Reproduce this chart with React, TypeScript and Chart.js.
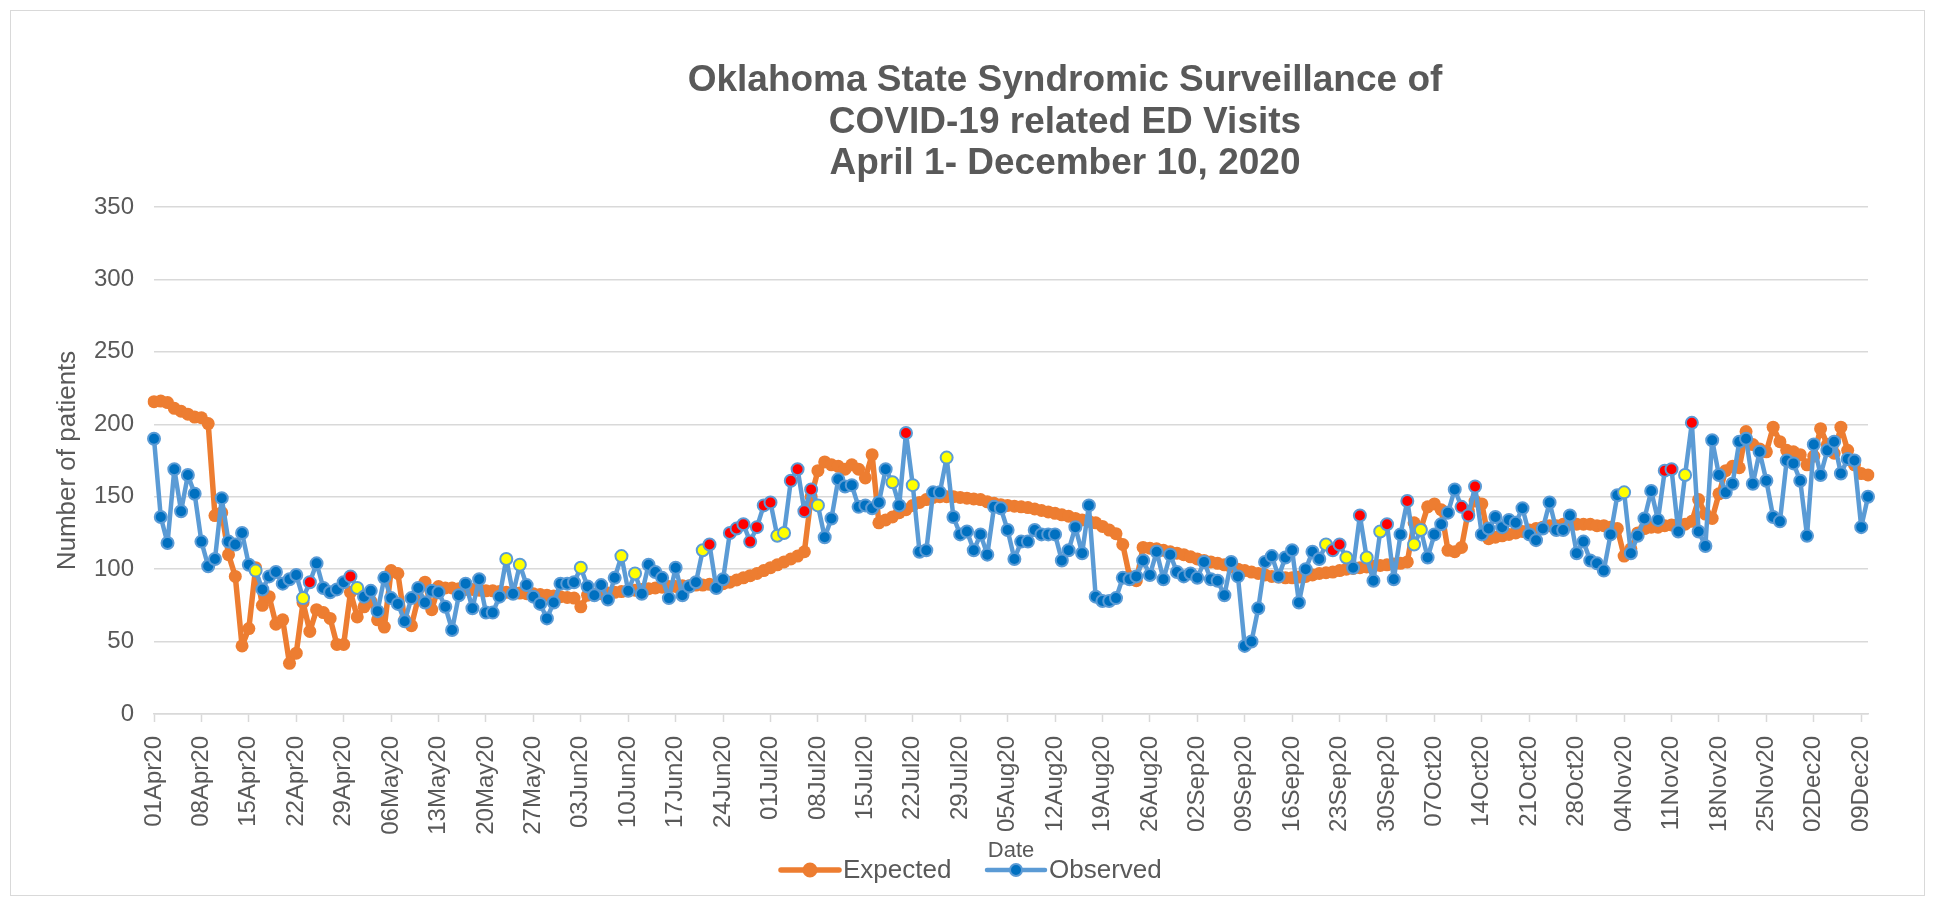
import { useEffect, useRef } from "react";
import { Chart, registerables } from "chart.js";

Chart.register(...registerables);

// ---------- DATA ----------
const MONTHS = ["Jan", "Feb", "Mar", "Apr", "May", "Jun", "Jul", "Aug", "Sep", "Oct", "Nov", "Dec"];
const START_DATE = Date.UTC(2020, 3, 1); // 01Apr20
const DAY_COUNT = 254; // 01Apr20 .. 10Dec20
const categories: string[] = Array.from({ length: DAY_COUNT }, (_, i) => {
  const d = new Date(START_DATE + i * 86400000);
  return String(d.getUTCDate()).padStart(2, "0") + MONTHS[d.getUTCMonth()] + "20";
});
const TICK_EVERY = 7; // a tick label each week: 01Apr20, 08Apr20, ... 09Dec20

const titleLines = [
  "Oklahoma State Syndromic Surveillance of",
  "COVID-19 related ED Visits",
  "April 1- December 10, 2020",
];
const yTitle = "Number of patients";
const xTitle = "Date";
const seriesNames = ["Expected", "Observed"];

const expected: number[] = [
  215.6, 216, 215, 211, 209, 207, 205, 204.5, 200.5, 137,
  139, 110, 95, 47, 59, 101, 75, 81, 62, 65,
  35, 42, 77, 57, 72, 70, 66, 48, 48, 84,
  67, 74, 78, 65, 60, 99, 97, 65, 61, 80,
  91, 72, 88, 87, 87, 86.5, 86, 86, 85.5, 85,
  85, 84.5, 84, 84, 83.5, 83, 83, 82.5, 82, 81.5,
  81, 80.5, 80, 74, 82, 82.5, 83, 83.5, 84, 84.5,
  85, 85.5, 86, 86.5, 87, 87.5, 88, 88, 88.5, 88.5,
  89, 89, 89.5, 89.5, 90, 91, 92.5, 94, 95.5, 97,
  99, 101, 103, 105, 107, 109, 112, 150, 168, 174,
  172, 171, 169, 172, 169, 163, 179, 132, 134, 136,
  139, 141, 144, 146, 148, 149.5, 150, 150, 150, 149.5,
  149, 148.5, 148, 146.5, 145.5, 144.5, 144, 143.5, 143, 142.5,
  141.5, 140.5, 139.5, 138.5, 137.5, 136.5, 135, 134, 133, 132,
  129.5, 127, 124.5, 117, 95, 92, 115, 114.5, 114, 113,
  112, 111, 110, 108.5, 107, 106, 105, 104, 103, 101.5,
  100, 99, 98, 97, 96, 95, 94.5, 94, 94, 94.5,
  95, 96, 97, 97.5, 98, 99, 100, 100.5, 101, 101.5,
  102, 102.5, 103, 103.5, 104, 105, 132, 128, 143, 145,
  141, 113, 112, 115, 140, 147, 145, 121, 122, 123,
  124, 125, 126, 127, 128, 129, 130, 130, 131, 131,
  131, 131, 131, 130, 130, 129, 128, 109, 114, 125,
  128, 129, 129, 130, 130.5, 131, 131, 133, 148, 138,
  135, 152, 168, 171, 170, 195, 186, 183, 181, 198,
  188, 182, 181, 179, 172, 178, 197, 186, 180, 198,
  182, 172, 166, 165,
];

const observed: number[] = [
  190, 136, 118, 169, 140, 165, 152, 119, 102, 107,
  149, 119, 117, 125, 103, 99, 86, 95, 98, 90,
  93, 96, 80, 91, 104, 87, 84, 86, 91, 95,
  87, 81, 85, 71, 94, 80, 76, 64, 80, 87,
  77, 85, 84, 74, 58, 82, 90, 73, 93, 70,
  70, 81, 107, 83, 103, 89, 81, 76, 66, 77,
  90, 90, 91, 101, 88, 82, 89, 79, 94, 109,
  85, 97, 83, 103, 98, 94, 80, 101, 82, 88,
  91, 113, 117, 87, 93, 125, 128, 131, 119, 129,
  144, 146, 123, 125, 161, 169, 140, 155, 144, 122,
  135, 162, 157, 158, 143, 144, 142, 146, 169, 160,
  144, 194, 158, 112, 113, 153, 153, 177, 136, 124,
  126, 113, 124, 110, 143, 142, 127, 107, 119, 119,
  127, 124, 124, 124, 106, 113, 129, 111, 144, 81,
  78, 78, 80, 94, 93, 95, 106, 96, 112, 93,
  110, 98, 95, 97, 94, 105, 93, 92, 82, 105,
  95, 47, 50, 73, 105, 109, 95, 108, 113, 77,
  100, 112, 107, 117, 113, 117, 108, 101, 137, 108,
  92, 126, 131, 93, 124, 147, 117, 127, 108, 124,
  131, 139, 155, 143, 137, 157, 124, 128, 136, 129,
  134, 132, 142, 124, 120, 128, 146, 127, 127, 137,
  111, 119, 106, 104, 99, 124, 151, 153, 111, 123,
  135, 154, 134, 168, 169, 126, 165, 201, 126, 116,
  189, 165, 153, 159, 188, 190, 159, 181, 161, 136,
  133, 175, 173, 161, 123, 186, 165, 182, 188, 166,
  176, 175, 129, 150,
];

// days whose observed count was flagged (marker fill colour)
const yellowFlagDays: number[] = [15, 22, 30, 52, 54, 63, 69, 71, 81, 92, 93, 98, 109, 112, 117, 173, 176, 179, 181, 186, 187, 217, 226];
const redFlagDays: number[] = [23, 29, 82, 85, 86, 87, 88, 89, 90, 91, 94, 95, 96, 97, 111, 174, 175, 178, 182, 185, 193, 194, 195, 223, 224, 227];

const yTicks = { min: 0, max: 350, step: 50 };

// ---------- STYLE ----------
const FONT = '"Liberation Sans", Arial, Helvetica, sans-serif';
const TEXT = "#595959";
const GRID = "#D9D9D9";
const ORANGE = "#ED7D31";
const BLUE_LINE = "#5B9BD5";
const BLUE_FILL = "#0070C0";
const W = 1919;
const H = 890;

const decorPlugin = {
  id: "decor",
  afterDraw(chart: any) {
    const ctx: CanvasRenderingContext2D = chart.ctx;
    const area = chart.chartArea;
    ctx.save();
    // chart frame
    ctx.strokeStyle = GRID;
    ctx.lineWidth = 1;
    ctx.strokeRect(2.5, 2.5, W - 5, H - 5);

    // title
    ctx.fillStyle = TEXT;
    ctx.textAlign = "center";
    ctx.textBaseline = "middle";
    ctx.font = `bold 37px ${FONT}`;
    titleLines.forEach((t, k) => ctx.fillText(t, 1057, 73 + k * 41.5));

    // y title
    ctx.save();
    ctx.translate(60, (area.top + area.bottom) / 2);
    ctx.rotate(-Math.PI / 2);
    ctx.font = `26px ${FONT}`;
    ctx.fillText(yTitle, 0, 0);
    ctx.restore();

    // x title
    ctx.font = `22px ${FONT}`;
    ctx.fillText(xTitle, (area.left + area.right) / 2, 843);

    // legend
    const ly = 862;
    const items = [
      { name: seriesNames[0], x0: 773, line: ORANGE, lw: 5.5, fill: ORANGE, stroke: ORANGE, r: 6.5 },
      { name: seriesNames[1], x0: 979, line: BLUE_LINE, lw: 4.5, fill: BLUE_FILL, stroke: BLUE_LINE, r: 6 },
    ];
    ctx.textAlign = "left";
    ctx.font = `26px ${FONT}`;
    items.forEach((it) => {
      ctx.strokeStyle = it.line;
      ctx.lineWidth = it.lw;
      ctx.lineCap = "round";
      ctx.beginPath();
      ctx.moveTo(it.x0, ly);
      ctx.lineTo(it.x0 + 58, ly);
      ctx.stroke();
      ctx.beginPath();
      ctx.arc(it.x0 + 29, ly, it.r, 0, Math.PI * 2);
      ctx.fillStyle = it.fill;
      ctx.fill();
      ctx.lineWidth = 2;
      ctx.strokeStyle = it.stroke;
      ctx.stroke();
      ctx.fillStyle = TEXT;
      ctx.fillText(it.name, it.x0 + 62, ly + 1);
    });
    ctx.restore();
  },
};

export default function App() {
  const ref = useRef<HTMLCanvasElement | null>(null);

  useEffect(() => {
    if (!ref.current) return;
    const obsColors = observed.map((_, i) =>
      redFlagDays.includes(i) ? "#FF0000" : yellowFlagDays.includes(i) ? "#FFFF00" : BLUE_FILL
    );
    const chart = new Chart(ref.current, {
      type: "line",
      data: {
        labels: categories,
        datasets: [
          {
            label: seriesNames[0],
            data: expected,
            borderColor: ORANGE,
            backgroundColor: ORANGE,
            borderWidth: 5.5,
            borderJoinStyle: "round",
            borderCapStyle: "round",
            pointRadius: 6.5,
            pointBorderWidth: 0,
            pointBackgroundColor: ORANGE,
            pointBorderColor: ORANGE,
            tension: 0,
            order: 2,
          },
          {
            label: seriesNames[1],
            data: observed,
            borderColor: BLUE_LINE,
            backgroundColor: BLUE_FILL,
            borderWidth: 4.5,
            borderJoinStyle: "round",
            borderCapStyle: "round",
            pointRadius: 6,
            pointBorderWidth: 2,
            pointBackgroundColor: obsColors,
            pointBorderColor: BLUE_LINE,
            tension: 0,
            order: 1,
          },
        ],
      },
      options: {
        responsive: false,
        animation: false,
        devicePixelRatio: 1,
        layout: { padding: { top: 199, right: 59, left: 0, bottom: 0 } },
        plugins: {
          legend: { display: false },
          title: { display: false },
          tooltip: { enabled: false },
        },
        scales: {
          x: {
            type: "category",
            offset: false,
            afterFit: (s: any) => {
              s.height = 184;
            },
            grid: {
              drawOnChartArea: false,
              drawTicks: true,
              tickLength: 8,
              tickWidth: 1.5,
              tickColor: (c: any) => (c.index % TICK_EVERY === 0 ? GRID : "rgba(0,0,0,0)"),
            },
            border: { display: true, color: GRID, width: 1.5 },
            ticks: {
              autoSkip: false,
              minRotation: 90,
              maxRotation: 90,
              padding: 14,
              color: TEXT,
              font: { family: FONT, size: 24 },
              callback: (_v: any, i: number) => (i % TICK_EVERY === 0 ? categories[i] : ""),
            },
          },
          y: {
            min: yTicks.min,
            max: yTicks.max,
            afterFit: (s: any) => {
              s.width = 146;
            },
            grid: { color: GRID, lineWidth: 1.5, drawTicks: false },
            border: { display: false },
            ticks: {
              stepSize: yTicks.step,
              padding: 20,
              color: TEXT,
              font: { family: FONT, size: 24 },
            },
          },
        },
      },
      plugins: [decorPlugin],
    });
    return () => chart.destroy();
  }, []);

  return (
    <div style={{ width: W, height: H }}>
      <canvas ref={ref} width={W} height={H} style={{ display: "block", width: W, height: H }} />
    </div>
  );
}
